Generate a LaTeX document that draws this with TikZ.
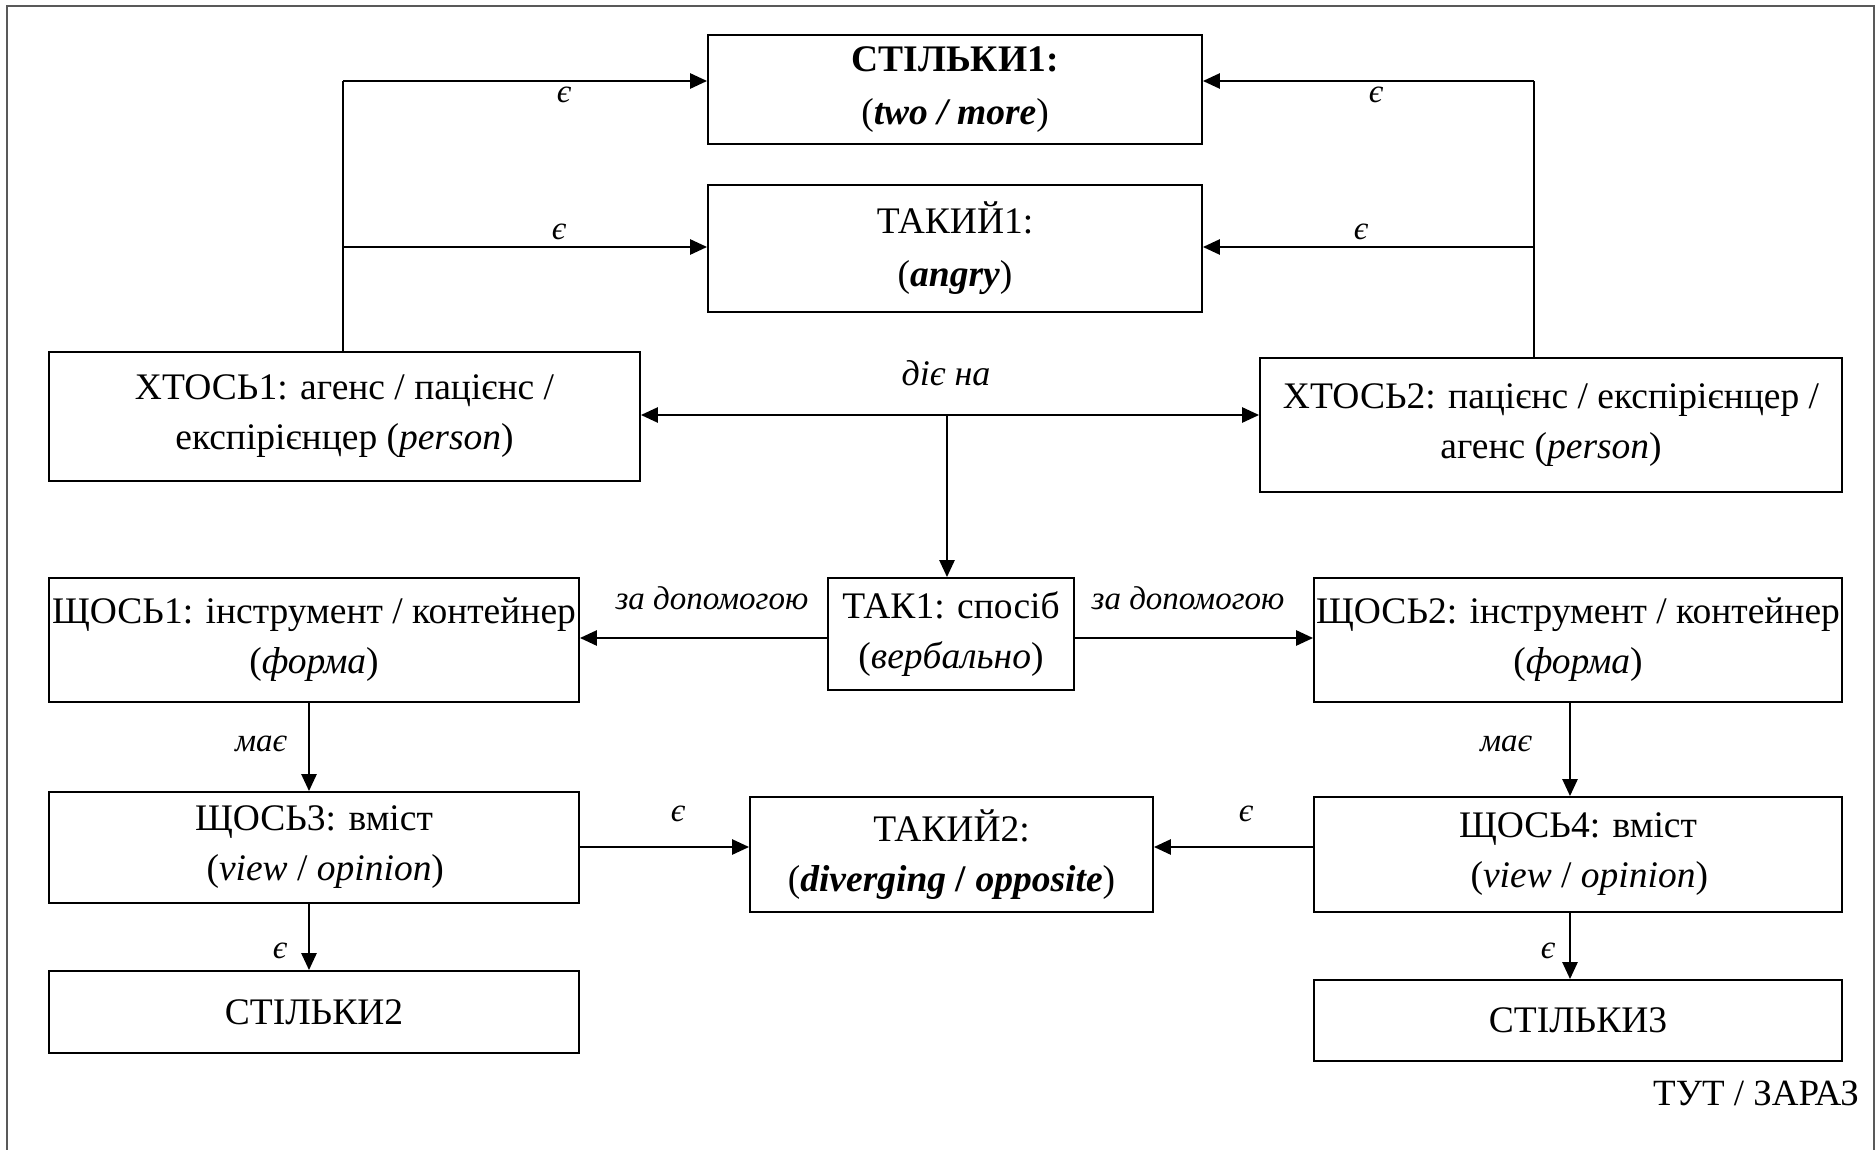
\documentclass[tikz,border=0pt]{standalone}
\usepackage{fontspec}
\setmainfont{Liberation Serif}
\usetikzlibrary{arrows.meta}

\tikzset{
  box/.style={draw, line width=1.8pt, rectangle, align=center, inner sep=0pt,
    font=\fontsize{37.5}{50}\selectfont},
  lbl/.style={inner sep=0pt, font=\fontsize{33}{40}\selectfont\itshape},
  trunk/.style={line width=2pt},
  arr/.style={line width=2.6pt, -{Triangle[length=17pt,width=15pt]}},
  dblarr/.style={line width=2.6pt, {Triangle[length=17pt,width=15pt]}-{Triangle[length=17pt,width=15pt]}},
}

\begin{document}
\begin{tikzpicture}[x=1pt,y=-1pt]
\useasboundingbox (0,0) rectangle (1876,1150);
\fill[white] (0,0) rectangle (1876,1150);
% outer frame
\draw[line width=2pt, black!65] (7,1170) -- (7,6) -- (1874,6) -- (1874,1170);

% boxes
\node[box, minimum width=494pt, minimum height=109pt, font=\fontsize{37.5}{53}\selectfont] (s1) at (955,89.5)
  {\textbf{СТІЛЬКИ1:}\\(\textbf{\textit{two / more}})};
\node[box, minimum width=494pt, minimum height=127pt, font=\fontsize{37.5}{53}\selectfont] (t1) at (955,248.5)
  {ТАКИЙ1:\\(\textbf{\textit{angry}})};
\node[box, minimum width=591pt, minimum height=129pt] (x1) at (344.5,416.5)
  {ХТОСЬ1: агенс / пацієнс /\\експірієнцер (\textit{person})};
\node[box, minimum width=582pt, minimum height=134pt] (x2) at (1551,425)
  {ХТОСЬ2: пацієнс / експірієнцер /\\агенс (\textit{person})};
\node[box, minimum width=530pt, minimum height=124pt] (q1) at (314,640)
  {ЩОСЬ1: інструмент / контейнер\\(\textit{форма})};
\node[box, minimum width=246pt, minimum height=112pt] (tk) at (951,634)
  {ТАК1: спосіб\\(\textit{вербально})};
\node[box, minimum width=528pt, minimum height=124pt] (q2) at (1578,640)
  {ЩОСЬ2: інструмент / контейнер\\(\textit{форма})};
\node[box, minimum width=530pt, minimum height=111pt] (q3) at (314,847.5)
  {ЩОСЬ3: вміст\\\hspace*{0.6em}(\textit{view} / \textit{opinion})};
\node[box, minimum width=403pt, minimum height=115pt] (t2) at (951.5,854.5)
  {ТАКИЙ2:\\(\textbf{\textit{diverging}} \textbf{/} \textbf{\textit{opposite}})};
\node[box, minimum width=528pt, minimum height=115pt] (q4) at (1578,854.5)
  {ЩОСЬ4: вміст\\\hspace*{0.6em}(\textit{view} / \textit{opinion})};
\node[box, minimum width=530pt, minimum height=82pt] (s2) at (314,1012) {СТІЛЬКИ2};
\node[box, minimum width=528pt, minimum height=81pt] (s3) at (1578,1020.5) {СТІЛЬКИ3};

\node[inner sep=0pt, anchor=base east, font=\fontsize{37}{40}\selectfont] (here) at (1859,1105) {ТУТ / ЗАРАЗ};

% branch points
\coordinate (lt) at (343,81);
\coordinate (lm) at (343,247);
\coordinate (rt) at (1534,81);
\coordinate (rm) at (1534,247);
\coordinate (dm) at (947,415);
\coordinate (ta) at (951,638);
\coordinate (hl) at (309,0);
\coordinate (hr) at (1570,0);
\coordinate (ht) at (0,847);

% ХТОСЬ1 / ХТОСЬ2 to СТІЛЬКИ1 and ТАКИЙ1
\draw[trunk] (x1.north -| lt) -- (lt);
\draw[arr] (lt) -- (s1.west |- lt);
\draw[arr] (lm) -- (t1.west |- lm);
\draw[trunk] (x2.north -| rt) -- (rt);
\draw[arr] (rt) -- (s1.east |- rt);
\draw[arr] (rm) -- (t1.east |- rm);
\node[lbl] at (564,95) {є};
\node[lbl] at (559,232) {є};
\node[lbl] at (1376,95) {є};
\node[lbl] at (1361,232) {є};

% діє на
\draw[dblarr] (x1.east |- dm) -- (x2.west |- dm);
\draw[arr] (dm) -- (tk.north -| dm);
\node[lbl, font=\fontsize{36}{40}\selectfont\itshape] at (946,373) {діє на};

% за допомогою
\draw[arr] (tk.west |- ta) -- (q1.east |- ta);
\draw[arr] (tk.east |- ta) -- (q2.west |- ta);
\node[lbl] at (712,598) {за допомогою};
\node[lbl] at (1188,598) {за допомогою};

% має
\draw[arr] (q1.south -| hl) -- (q3.north -| hl);
\draw[arr] (q2.south -| hr) -- (q4.north -| hr);
\node[lbl] at (261,744) {має};
\node[lbl] at (1506,744) {має};

% є to ТАКИЙ2
\draw[arr] (q3.east |- ht) -- (t2.west |- ht);
\draw[arr] (q4.west |- ht) -- (t2.east |- ht);
\node[lbl] at (678,814) {є};
\node[lbl] at (1246,814) {є};

% є to СТІЛЬКИ2 / СТІЛЬКИ3
\draw[arr] (q3.south -| hl) -- (s2.north -| hl);
\draw[arr] (q4.south -| hr) -- (s3.north -| hr);
\node[lbl] at (280,951) {є};
\node[lbl] at (1548,951) {є};
\end{tikzpicture}
\end{document}
